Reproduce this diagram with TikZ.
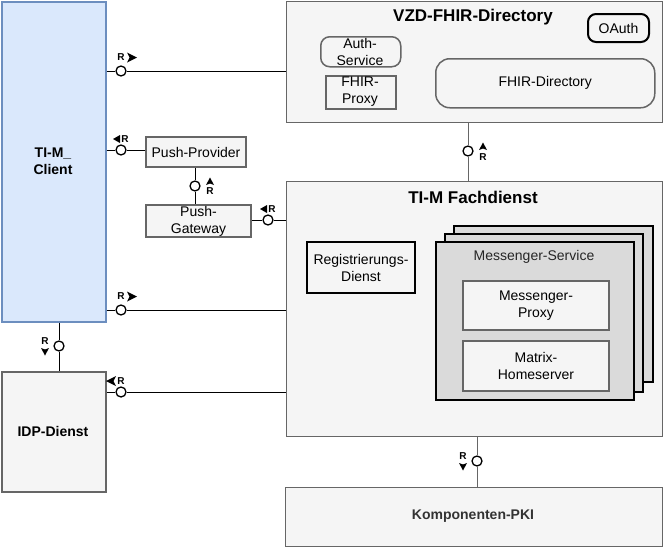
\documentclass[tikz,border=0pt]{standalone}
\usepackage{fontspec}
\setmainfont{Liberation Sans}
\definecolor{cfill}{HTML}{F5F5F5}
\definecolor{cstroke}{HTML}{666666}
\definecolor{bluefill}{HTML}{DAE8FC}
\definecolor{bluestroke}{HTML}{6C8EBF}
\definecolor{msfill}{HTML}{DADADA}
\definecolor{txt}{HTML}{333333}
\tikzset{
  box/.style={draw=cstroke, fill=cfill, line width=1pt, inner sep=0pt, align=center,
    anchor=north west, font=\fontsize{14}{17}\selectfont},
  thickbox/.style={box, line width=2pt},
  blackbox/.style={box, draw=black, line width=2pt},
  title/.style={font=\bfseries\fontsize{17}{20}\selectfont, inner sep=0pt},
  plain/.style={font=\fontsize{14}{17}\selectfont, align=center, inner sep=0pt},
  bold/.style={font=\bfseries\fontsize{14}{17}\selectfont, align=center, inner sep=0pt},
  lolli/.style={circle, draw=black, fill=white, line width=1.3pt, minimum size=10pt, inner sep=0pt},
  conn/.style={draw=black, line width=1pt},
  rtxt/.style={font=\bfseries\fontsize{10}{11}\selectfont, inner sep=0pt},
}
\begin{document}
\begin{tikzpicture}[x=1pt, y=-1pt]
\useasboundingbox (0,0) rectangle (665,549);

% Containers
\node[box, draw=bluestroke, fill=bluefill, line width=1.5pt, minimum width=104pt, minimum height=320pt] (client) at (1,1) {};
\node[bold] (clientt) at (53,161) {TI-M\_\\Client};
\node[thickbox, minimum width=104pt, minimum height=120pt] (idp) at (1,371) {};
\node[bold] (idpt) at (53,431) {IDP-Dienst};

\node[box, minimum width=376pt, minimum height=121pt] (vzd) at (286,1) {};
\node[title] (vzdt) at (473,17) {VZD-FHIR-Directory};
\node[blackbox, rounded corners=8pt, minimum width=61pt, minimum height=28pt] (oauth) at (587,13) {OAuth};
\node[box, line width=1.5pt, rounded corners=9pt, minimum width=80pt, minimum height=30pt] (auth) at (320,36) {};
\node[plain] (autht) at (360,52) {Auth-\\Service};
\node[thickbox, minimum width=70pt, minimum height=33pt] (fproxy) at (325,75) {};
\node[plain] (fproxyt) at (360,92) {FHIR-\\Proxy};
\node[box, line width=1.5pt, rounded corners=14pt, minimum width=219pt, minimum height=49pt] (fdir) at (435,58) {FHIR-Directory};

\node[box, minimum width=376pt, minimum height=255pt] (fach) at (286,181) {};
\node[title] (facht) at (473,197) {TI-M Fachdienst};
\node[blackbox, minimum width=108pt, minimum height=51pt] (reg) at (306,241) {Registrierungs-\\Dienst};
\node[blackbox, fill=msfill, minimum width=199pt, minimum height=156pt] (ms3) at (453,225) {};
\node[blackbox, fill=msfill, minimum width=198pt, minimum height=158pt] (ms2) at (444,233) {};
\node[blackbox, fill=msfill, minimum width=198pt, minimum height=158pt] (ms1) at (435,241) {};
\node[plain, text=black!85] (mst) at (534,257) {Messenger-Service};
\node[thickbox, minimum width=146pt, minimum height=49pt] (mproxy) at (462,280) {Messenger-\\Proxy};
\node[thickbox, minimum width=146pt, minimum height=50pt] (matrix) at (462,340) {Matrix-\\Homeserver};

\node[box, minimum width=377pt, minimum height=59pt] (pki) at (285,487) {};
\node[bold, text=txt] (pkit) at (473,516) {Komponenten-PKI};

\node[thickbox, minimum width=100pt, minimum height=30pt] (pprov) at (145,136) {Push-Provider};
\node[thickbox, minimum width=105pt, minimum height=32pt] (pgw) at (145,204) {Push-\\Gateway};

% Lollipops
\node[lolli] (l1) at (121,71) {};
\node[lolli] (l2) at (121,150) {};
\node[lolli] (l3) at (195,186) {};
\node[lolli] (l4) at (268,220) {};
\node[lolli] (l5) at (121,310) {};
\node[lolli] (l6) at (59,346) {};
\node[lolli] (l7) at (121,392) {};
\node[lolli] (l8) at (468,151) {};
\node[lolli] (l9) at (477,461) {};

% Connectors
\draw[conn] (client.east |- l1) -- (l1);
\draw[conn] (l1) -- (vzd.west |- l1);
\draw[conn] (client.east |- l2) -- (l2);
\draw[conn] (l2) -- (pprov.west |- l2);
\draw[conn] (pprov.south -| l3) -- (l3);
\draw[conn] (l3) -- (pgw.north -| l3);
\draw[conn] (pgw.east |- l4) -- (l4);
\draw[conn] (l4) -- (fach.west |- l4);
\draw[conn] (client.east |- l5) -- (l5);
\draw[conn] (l5) -- (fach.west |- l5);
\draw[conn] (client.south -| l6) -- (l6);
\draw[conn] (l6) -- (idp.north -| l6);
\draw[conn] (idp.east |- l7) -- (l7);
\draw[conn] (l7) -- (fach.west |- l7);
\draw[conn, draw=cstroke] (vzd.south -| l8) -- (l8);
\draw[conn, draw=cstroke] (l8) -- (fach.north -| l8);
\draw[conn, draw=cstroke] (fach.south -| l9) -- (l9);
\draw[conn, draw=cstroke] (l9) -- (pki.north -| l9);

% R labels
\node[rtxt] (r1) at (121,57) {R};
\fill (127,52.5) -- (137,57.5) -- (127,62.5) -- (129.5,57.5) -- cycle;
\node[rtxt] (r2) at (125,139) {R};
\fill (113,139) -- (120,135) -- (120,143) -- cycle;
\node[rtxt] (r3) at (210,191) {R};
\fill (210,177.5) -- (214,185) -- (210,183.5) -- (206,185) -- cycle;
\node[rtxt] (r4) at (272,209) {R};
\fill (260,209) -- (267,205) -- (267,213) -- cycle;
\node[rtxt] (r5) at (121,296) {R};
\fill (127,291.5) -- (137,296.5) -- (127,301.5) -- (129.5,296.5) -- cycle;
\node[rtxt] (r6) at (45,341) {R};
\fill (45,355.5) -- (41,348) -- (45,349.5) -- (49,348) -- cycle;
\node[rtxt] (r7) at (121,381) {R};
\fill (106,381) -- (116,376) -- (113.5,381) -- (116,386) -- cycle;
\node[rtxt] (r8) at (483,157) {R};
\fill (483,142.5) -- (487,150) -- (483,148.5) -- (479,150) -- cycle;
\node[rtxt] (r9) at (463,456) {R};
\fill (463,470.5) -- (459,463) -- (463,464.5) -- (467,463) -- cycle;
\end{tikzpicture}
\end{document}
